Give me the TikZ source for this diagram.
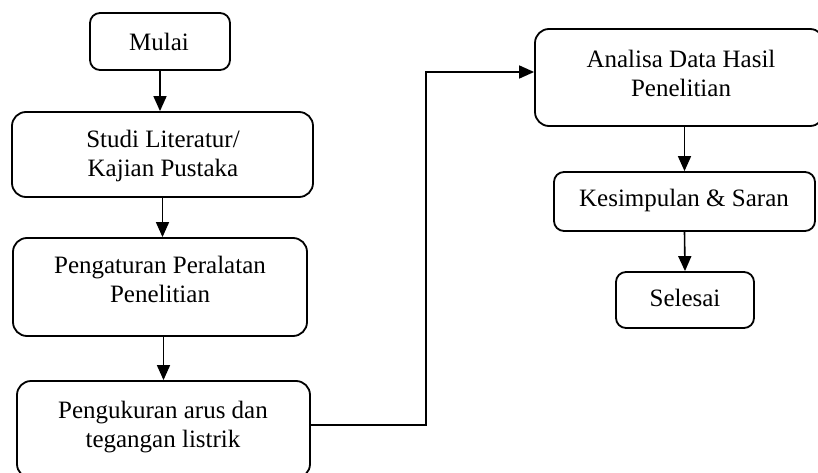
\documentclass[tikz,border=0pt]{standalone}
\usepackage{fontspec}
\setmainfont{Liberation Serif}
\usetikzlibrary{arrows.meta,calc}
\begin{document}
\begin{tikzpicture}[x=1pt,y=-1pt,
  box/.style={draw, line width=1.8pt, rounded corners=14pt, inner sep=0pt},
  sbox/.style={draw, line width=1.8pt, rounded corners=10pt, inner sep=0pt},
  txt/.style={align=center, inner sep=0pt, font=\fontsize{25}{29}\selectfont},
  arr/.style={line width=1.6pt, -{Triangle[length=15pt,width=13pt]}}]
\useasboundingbox (0,0) rectangle (818,473);
% boxes
\node[sbox, minimum width=140pt, minimum height=57pt] (mulai) at (160,41.5) {};
\node[box, minimum width=301pt, minimum height=85pt] (studi) at (162.5,154.5) {};
\node[box, minimum width=294pt, minimum height=98pt] (atur) at (160,287) {};
\node[box, minimum width=293pt, minimum height=97pt] (ukur) at (163.5,429.5) {};
\node[box, minimum width=289pt, minimum height=97pt] (ana) at (679.5,77.5) {};
\node[sbox, minimum width=261pt, minimum height=59pt] (kes) at (684.5,201.5) {};
\node[sbox, minimum width=138pt, minimum height=56pt] (sel) at (685,300) {};
% texts
\node[txt] (mulai-t) at (159,42) {Mulai};
\node[txt] (studi-t) at (163,156) {Studi Literatur/\\Kajian Pustaka};
\node[txt] (atur-t) at (160,279) {Pengaturan Peralatan\\Penelitian};
\node[txt] (ukur-t) at (163,427) {Pengukuran arus dan\\tegangan listrik};
\node[txt] (ana-t) at (681,73) {Analisa Data Hasil\\Penelitian};
\node[txt] (kes-t) at (684,200) {Kesimpulan \& Saran};
\node[txt] (sel-t) at (685,298) {Selesai};
% connectors
\draw[arr] (mulai.south) -- (mulai.south |- studi.north);
\draw[arr] (studi.south) -- (studi.south |- atur.north);
\draw[arr] (ukur.north |- atur.south) -- (ukur.north);
\coordinate (c1) at (426,425);
\coordinate (c2) at (426,72);
\draw[arr] (ukur.east |- c1) -- (c1) -- (c2) -- (c2 -| ana.west);
\draw[arr] (kes.north |- ana.south) -- (kes.north);
\draw[arr] (kes.south) -- (sel.north);
\end{tikzpicture}
\end{document}
